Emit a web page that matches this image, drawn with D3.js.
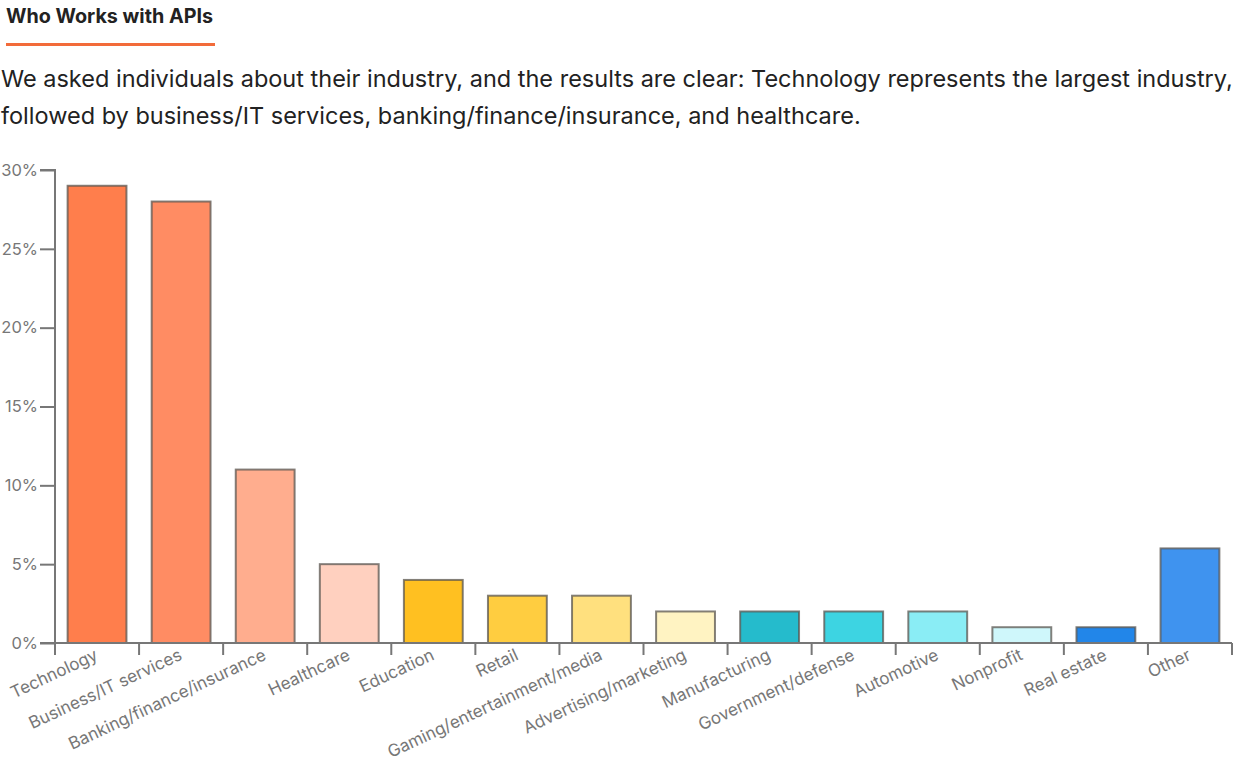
<!DOCTYPE html>
<html>
<head>
<meta charset="utf-8">
<script src="https://cdn.jsdelivr.net/npm/d3@7"></script>
<style>
  body { margin: 0; background: #fff; font-family: Inter, "Noto Sans", sans-serif; }
  #chart { display: block; }
</style>
</head>
<body>
<svg id="chart" width="1236" height="762"></svg>
<script>
// data
const categories = ["Technology", "Business/IT services", "Banking/finance/insurance", "Healthcare",
  "Education", "Retail", "Gaming/entertainment/media", "Advertising/marketing", "Manufacturing",
  "Government/defense", "Automotive", "Nonprofit", "Real estate", "Other"];
const values = [29, 28, 11, 5, 4, 3, 3, 2, 2, 2, 2, 1, 1, 6];
const colors = ["#ff7e4c", "#ff8c63", "#ffad8e", "#ffd0bf", "#ffc021", "#ffcd40", "#ffe07e", "#fff3c2",
  "#25bbcc", "#3dd4e2", "#8aedf5", "#cff7fb", "#2286e9", "#3f93ef"];
const yTicks = [0, 5, 10, 15, 20, 25, 30];

const title = "Who Works with APIs";
const subtitle = [
  "We asked individuals about their industry, and the results are clear: Technology represents the largest industry,",
  "followed by business/IT services, banking/finance/insurance, and healthcare."
];

const svg = d3.select("#chart");
const margin = { top: 170, left: 55, right: 4, bottom: 119 };
const width = 1236, height = 762;
const bodyW = width - margin.left - margin.right;
const bodyH = height - margin.top - margin.bottom;

// header
svg.append("text")
  .attr("x", 6).attr("y", 23)
  .attr("font-size", 19.5).attr("font-weight", 700).attr("fill", "#222")
  .attr("textLength", 207).attr("lengthAdjust", "spacingAndGlyphs")
  .text(title);
svg.append("rect")
  .attr("x", 6).attr("y", 43).attr("width", 209).attr("height", 3)
  .attr("fill", "#f26b3a");
svg.selectAll("text.sub")
  .data(subtitle).enter().append("text")
  .attr("class", "sub")
  .attr("x", 1).attr("y", (d, i) => 87 + i * 37)
  .attr("font-size", 23.5).attr("fill", "#222")
  .text(d => d);

let xScale = d3.scaleBand()
  .domain(categories)
  .range([0, bodyW])
  .paddingInner(0.3)
  .paddingOuter(0.15);

let yScale = d3.scaleLinear()
  .domain([0, 30])
  .range([bodyH, 0]);

let body = svg.append("g")
  .attr("transform", `translate(${margin.left},${margin.top})`);

// faint baseline under the bars
body.append("line")
  .attr("x1", 0).attr("x2", bodyW)
  .attr("y1", yScale(0)).attr("y2", yScale(0))
  .attr("stroke", "#ccc").attr("stroke-width", 2);

body.selectAll("rect.bar")
  .data(values).enter().append("rect")
  .attr("class", "bar")
  .attr("x", (d, i) => xScale(categories[i]))
  .attr("y", d => yScale(d))
  .attr("width", xScale.bandwidth())
  .attr("height", d => yScale(0) - yScale(d))
  .attr("fill", (d, i) => colors[i])
  .attr("stroke", "rgba(90,85,80,0.75)")
  .attr("stroke-width", 2);

// y axis
let yAxis = d3.axisLeft(yScale)
  .tickValues(yTicks)
  .tickSize(15)
  .tickPadding(2)
  .tickFormat(d => d + "%");
let gy = body.append("g").call(yAxis);
gy.select(".domain").attr("stroke", "#777").attr("stroke-width", 2);
gy.selectAll(".tick line").attr("stroke", "#777").attr("stroke-width", 2);
gy.selectAll(".tick text")
  .attr("font-family", "Inter, sans-serif").attr("font-size", 16.5).attr("fill", "#777");
gy.select(".domain").attr("d", `M-15,${yScale(30)}H0V${yScale(0)}H-15`);

// x axis with ticks on band boundaries
let xEdges = d3.scaleLinear().domain([0, categories.length]).range([0, bodyW]);
let gx = body.append("g").attr("transform", `translate(0,${bodyH})`);
gx.append("path")
  .attr("d", `M0,0H${bodyW}`)
  .attr("stroke", "#777").attr("stroke-width", 2).attr("fill", "none");
gx.selectAll("line.edge")
  .data(d3.range(categories.length + 1)).enter().append("line")
  .attr("class", "edge")
  .attr("x1", d => xEdges(d)).attr("x2", d => xEdges(d))
  .attr("y1", 0).attr("y2", 12)
  .attr("stroke", "#777").attr("stroke-width", 2);
gx.selectAll("text.lab")
  .data(categories).enter().append("text")
  .attr("class", "lab")
  .attr("transform", d => `translate(${xScale(d) + xScale.bandwidth() / 2 + 2},16) rotate(-25)`)
  .attr("text-anchor", "end")
  .attr("font-size", 17).attr("fill", "#777")
  .text(d => d);
</script>
</body>
</html>
